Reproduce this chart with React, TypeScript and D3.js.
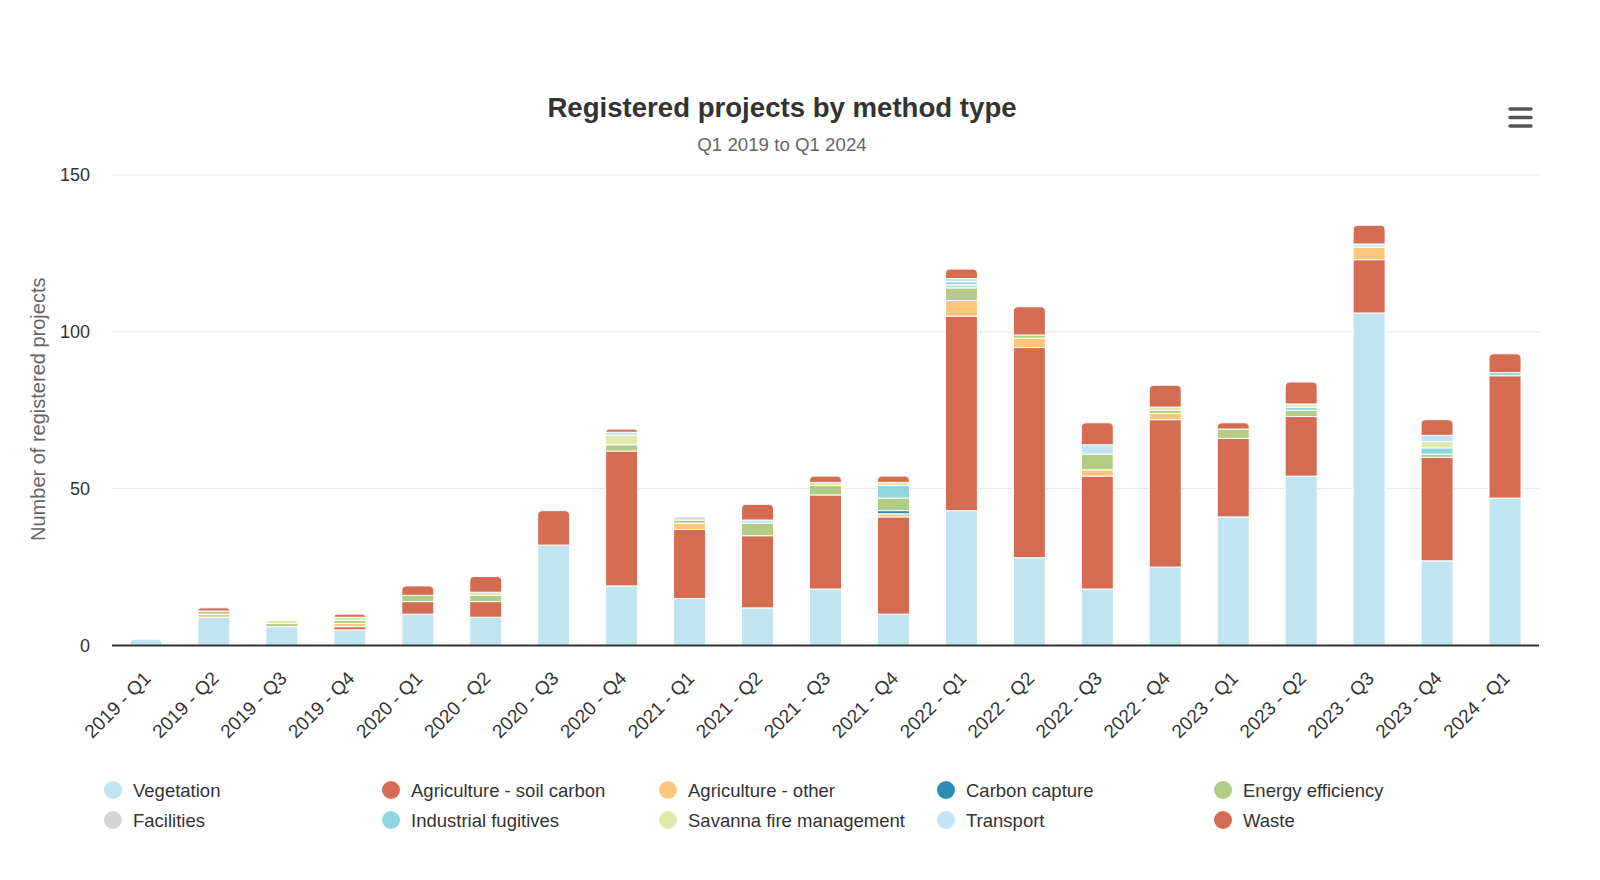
import React from "react";
import * as d3 from "d3";

const quarters = [
  "2019 - Q1", "2019 - Q2", "2019 - Q3", "2019 - Q4",
  "2020 - Q1", "2020 - Q2", "2020 - Q3", "2020 - Q4",
  "2021 - Q1", "2021 - Q2", "2021 - Q3", "2021 - Q4",
  "2022 - Q1", "2022 - Q2", "2022 - Q3", "2022 - Q4",
  "2023 - Q1", "2023 - Q2", "2023 - Q3", "2023 - Q4",
  "2024 - Q1",
];

const vegetation = [2, 9, 6, 5, 10, 9, 32, 19, 15, 12, 18, 10, 43, 28, 18, 25, 41, 54, 106, 27, 47];
const soilCarbon = [0, 0, 0, 1, 4, 5, 11, 43, 22, 23, 30, 31, 62, 67, 36, 47, 25, 19, 17, 33, 39];
const agricultureOther = [0, 1, 0, 1, 0, 0, 0, 0, 2, 0, 0, 1, 5, 3, 2, 2, 0, 0, 4, 0, 0];
const carbonCapture = [0, 0, 0, 0, 0, 0, 0, 0, 0, 0, 0, 1, 0, 0, 0, 0, 0, 0, 0, 0, 0];
const energyEfficiency = [0, 1, 1, 1, 2, 2, 0, 2, 1, 4, 3, 4, 4, 1, 5, 1, 3, 2, 0, 1, 0];
const facilities = [0, 0, 0, 0, 0, 0, 0, 0, 1, 0, 0, 0, 1, 0, 0, 0, 0, 0, 0, 0, 0];
const industrialFugitives = [0, 0, 0, 0, 0, 0, 0, 0, 0, 0, 0, 4, 1, 0, 0, 0, 0, 1, 0, 2, 1];
const savannaFire = [0, 0, 1, 1, 0, 1, 0, 3, 0, 0, 1, 1, 0, 0, 0, 1, 0, 1, 0, 2, 0];
const transport = [0, 0, 0, 0, 0, 0, 0, 1, 0, 1, 0, 0, 1, 0, 3, 0, 0, 0, 1, 2, 0];
const waste = [0, 1, 0, 1, 3, 5, 0, 1, 0, 5, 2, 2, 3, 9, 7, 7, 2, 7, 6, 5, 6];

const yTicks = [0, 50, 100, 150];

const seriesList = [
  { name: "Vegetation", values: vegetation, color: "#c1e4f1" },
  { name: "Agriculture - soil carbon", values: soilCarbon, color: "#d46b53" },
  { name: "Agriculture - other", values: agricultureOther, color: "#fdc77b" },
  { name: "Carbon capture", values: carbonCapture, color: "#2a8bb3" },
  { name: "Energy efficiency", values: energyEfficiency, color: "#b3cc85" },
  { name: "Facilities", values: facilities, color: "#d4d4d4" },
  { name: "Industrial fugitives", values: industrialFugitives, color: "#8fd6df" },
  { name: "Savanna fire management", values: savannaFire, color: "#dfeaa8" },
  { name: "Transport", values: transport, color: "#c3e5f2" },
  { name: "Waste", values: waste, color: "#d46b53" },
];

const W = 1600;
const H = 880;
const plot = { left: 112, right: 1539, top: 175, bottom: 645.5 };
const FONT = "'Liberation Sans', Arial, Helvetica, sans-serif";

function topRoundedRect(x: number, y: number, w: number, h: number, r: number) {
  const rr = Math.min(r, h, w / 2);
  return `M${x},${y + h}V${y + rr}Q${x},${y} ${x + rr},${y}H${x + w - rr}Q${x + w},${y} ${x + w},${y + rr}V${y + h}Z`;
}

export default function App() {
  const rows = quarters.map((q, i) => {
    const row: Record<string, number | string> = { quarter: q };
    seriesList.forEach((s) => (row[s.name] = s.values[i]));
    return row;
  });

  const stack = d3.stack<Record<string, number | string>>().keys(seriesList.map((s) => s.name));
  const layers = stack(rows as any);

  const x = d3.scaleBand().domain(quarters).range([plot.left, plot.right]);
  const y = d3.scaleLinear().domain([0, 150]).range([plot.bottom, plot.top]);
  const barW = 32;

  // index of the highest non-empty layer for each quarter, which gets the rounded top
  const topLayer = quarters.map((_, i) => {
    let t = -1;
    seriesList.forEach((s, k) => {
      if (s.values[i] > 0) t = k;
    });
    return t;
  });

  const legendCols = [113, 391, 668, 946, 1223];
  const legendRows = [790, 820];

  return (
    <svg
      width={W}
      height={H}
      style={{ position: "absolute", left: 0, top: 0, background: "#fff" }}
      fontFamily={FONT}
    >
      <rect x={0} y={0} width={W} height={H} fill="#fff" />
      <text x={782} y={117} textAnchor="middle" fontSize={27.6} fontWeight="bold" fill="#333">
        Registered projects by method type
      </text>
      <text x={782} y={150.5} textAnchor="middle" fontSize={18.7} fill="#666">
        Q1 2019 to Q1 2024
      </text>

      {/* context menu icon */}
      {[109, 117.5, 126].map((yy) => (
        <line key={yy} x1={1510} x2={1531} y1={yy} y2={yy} stroke="#555" strokeWidth={3.5} strokeLinecap="round" />
      ))}

      {/* grid */}
      {yTicks.filter((t) => t > 0).map((t) => (
        <line key={t} x1={plot.left} x2={plot.right} y1={y(t)} y2={y(t)} stroke="#e6e6e6" strokeWidth={1} />
      ))}
      {yTicks.map((t) => (
        <text key={t} x={90} y={y(t) + 6} textAnchor="end" fontSize={18} fill="#333">
          {t}
        </text>
      ))}
      <text
        transform={`translate(45,${(plot.top + plot.bottom) / 2 - 1}) rotate(-90)`}
        textAnchor="middle"
        fontSize={20}
        fill="#666"
      >
        Number of registered projects
      </text>

      {/* stacked columns */}
      {layers.map((layer, k) => (
        <g key={seriesList[k].name} fill={seriesList[k].color}>
          {layer.map((d, i) => {
            if (d[1] - d[0] <= 0) return null;
            const bx = (x(quarters[i]) as number) + x.bandwidth() / 2 - barW / 2;
            const y0 = y(d[0]);
            const y1 = y(d[1]);
            if (topLayer[i] === k) {
              return (
                <path
                  key={i}
                  d={topRoundedRect(bx, y1, barW, y0 - y1, 5)}
                  stroke="#fff"
                  strokeWidth={1}
                />
              );
            }
            return <rect key={i} x={bx} y={y1} width={barW} height={y0 - y1} stroke="#fff" strokeWidth={1} />;
          })}
        </g>
      ))}

      {/* x axis */}
      <line x1={plot.left} x2={plot.right} y1={plot.bottom} y2={plot.bottom} stroke="#333" strokeWidth={2} />
      {quarters.map((q) => {
        const cx = (x(q) as number) + x.bandwidth() / 2 + 6;
        return (
          <text
            key={q}
            transform={`translate(${cx},${plot.bottom + 34}) rotate(-45)`}
            textAnchor="end"
            fontSize={19}
            fill="#333"
          >
            {q}
          </text>
        );
      })}

      {/* legend */}
      {seriesList.map((s, i) => {
        const lx = legendCols[i % 5];
        const ly = legendRows[Math.floor(i / 5)];
        return (
          <g key={s.name}>
            <circle cx={lx} cy={ly} r={9} fill={s.color} />
            <text x={lx + 20} y={ly + 6.5} fontSize={18.5} fill="#333">
              {s.name}
            </text>
          </g>
        );
      })}
    </svg>
  );
}
